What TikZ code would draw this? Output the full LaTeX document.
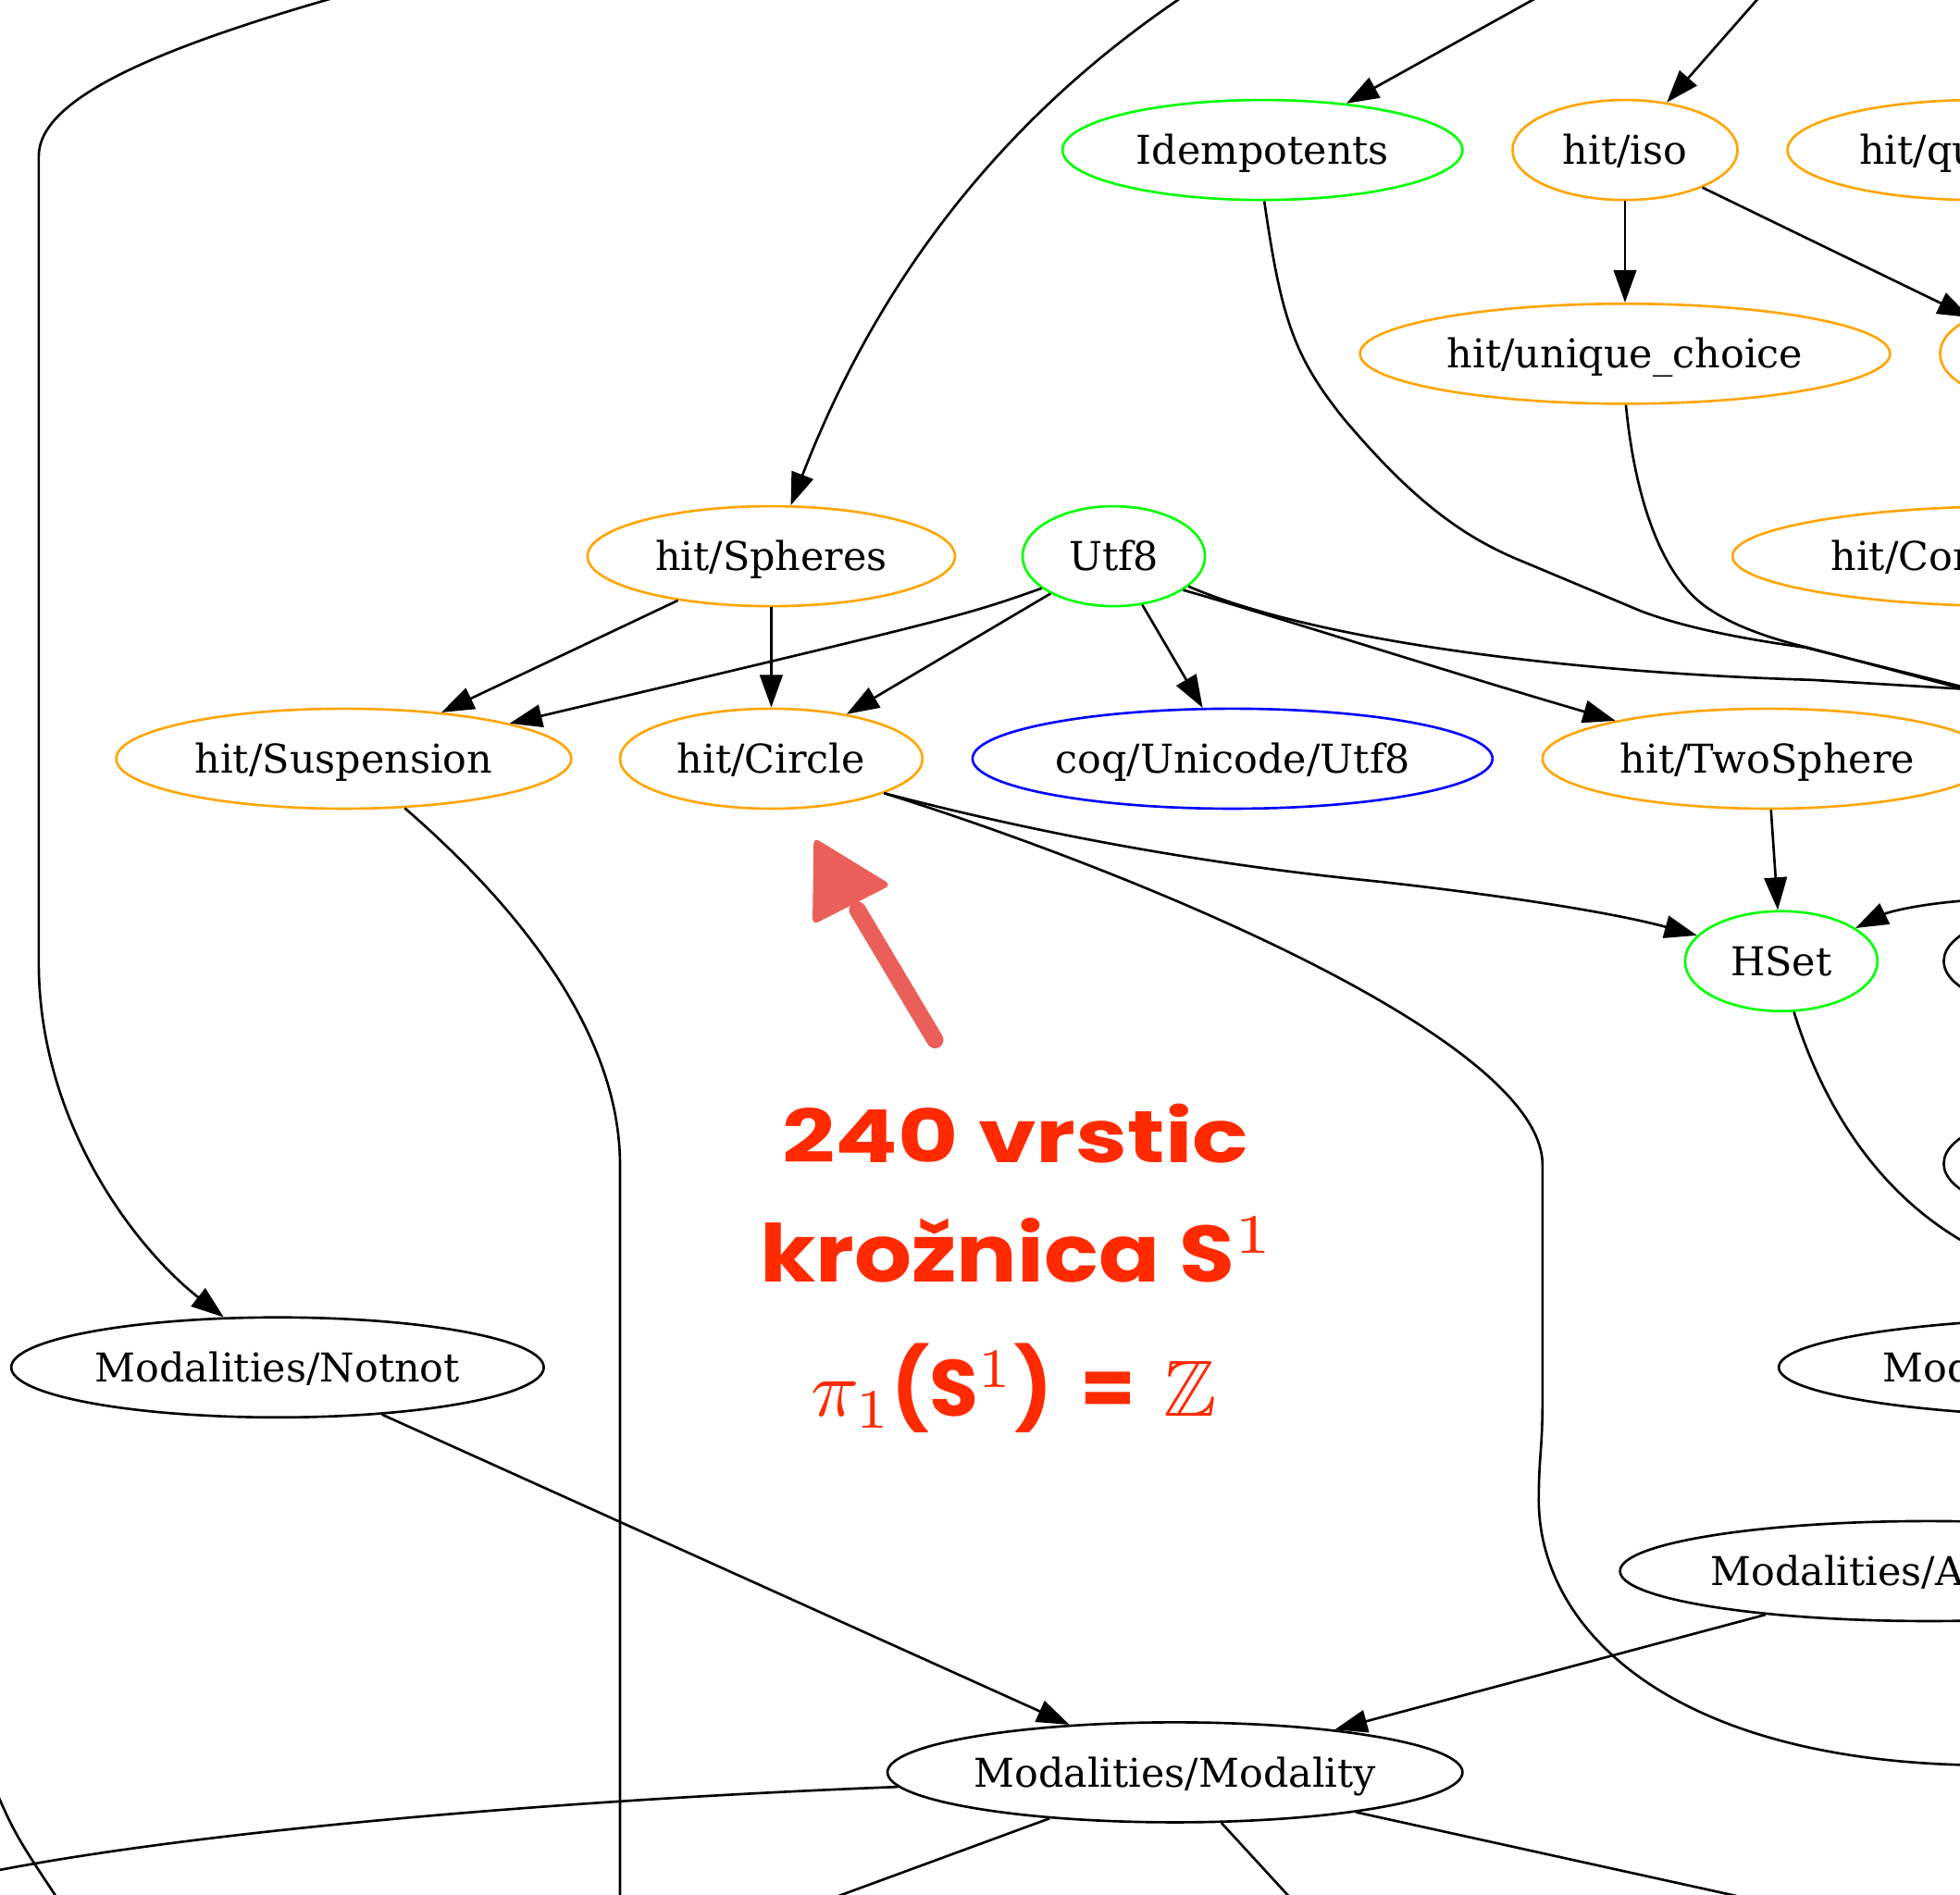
\documentclass[tikz,border=0pt]{standalone}
\usepackage{amssymb}
\usepackage{fontspec}
\setmainfont{DejaVu Serif}
\newfontfamily\hand{Poppins}
\usetikzlibrary{shapes.geometric,arrows.meta}
\definecolor{gvorange}{HTML}{FFA500}
\definecolor{gvgreen}{HTML}{00FF00}
\definecolor{gvblue}{HTML}{0000FF}
\definecolor{annot}{HTML}{EB5F5A}
\definecolor{txtred}{HTML}{FF2A00}
\tikzset{
  gn/.style={ellipse, draw, line width=0.75pt, inner sep=0pt,
    minimum height={80*0.0135cm}, text height=8.9pt, text depth=0pt,
    font=\fontsize{12.2}{15}\selectfont},
  nw/.style={minimum width={#1*0.0135cm}},
  og/.style={gn, draw=gvorange},
  gg/.style={gn, draw=gvgreen},
  bg/.style={gn, draw=gvblue},
  kg/.style={gn, draw=black},
  ed/.style={line width=0.75pt, -{Triangle[length=10pt,width=7pt]}},
  ln/.style={line width=0.75pt},
  hw/.style={inner sep=0pt, anchor=base, text=txtred}
}
\begin{document}
\begin{tikzpicture}[x=0.0135cm,y=-0.0135cm]
\useasboundingbox (0,0) rectangle (1568,1516);
\clip (0,0) rectangle (1568,1516);

% nodes
\node[gg, nw=320] (idem) at (1010,120) {Idempotents};
\node[og, nw=180] (iso) at (1300,120) {hit/iso};
\node[og, nw=304] (quot) at (1582,120) {hit/quotient};
\node[og, nw=424] (uniq) at (1300,283) {hit/unique\_choice};
\node[og, nw=168] (rnode) at (1636,283) {};
\node[og, nw=294] (spheres) at (617,445) {hit/Spheres};
\node[gg, nw=146] (utf) at (891,445) {Utf8};
\node[og, nw=456] (conn) at (1614,445) {hit/Connectedness};
\node[og, nw=364] (susp) at (275,607) {hit/Suspension};
\node[og, nw=242] (circle) at (617,607) {hit/Circle};
\node[bg, nw=416] (unicode) at (986,607) {coq/Unicode/Utf8};
\node[og, nw=360] (two) at (1414,607) {hit/TwoSphere};
\node[gg, nw=154] (hset) at (1425,769) {HSet};
\node[kg, nw=190] (r769) at (1650,769) {};
\node[kg, nw=190] (r931) at (1650,931) {};
\node[kg, nw=542] (modx) at (1694,1094) {Modalities/Localization};
\node[kg, nw=426] (notnot) at (222,1094) {Modalities/Notnot};
\node[kg, nw=494] (acc) at (1543,1257) {Modalities/Accessible};
\node[kg, nw=460] (modal) at (940,1418) {Modalities/Modality};

% free ends
\coordinate (t1) at (275,-4);
\coordinate (t2) at (965,-15);
\coordinate (t3) at (1262,-20);
\coordinate (t4) at (1423,-20);
\coordinate (r7) at (1600,557);
\coordinate (r8) at (1600,559);
\coordinate (r15) at (1600,553);
\coordinate (r17) at (1600,1413);
\coordinate (r19) at (1600,719);
\coordinate (r20) at (1600,1008);
\coordinate (b21) at (496,1540);
\coordinate (l24) at (-20,1500);
\coordinate (b25) at (608,1540);
\coordinate (b26) at (1052,1540);
\coordinate (b27) at (1494,1540);
\coordinate (l28) at (-8,1422);
\coordinate (b28) at (52,1528);

% edges
\draw[ed] (t1) .. controls (120,40) and (31,80) .. (31,125) -- (31,770)
  .. controls (31,900) and (110,1000) .. (notnot.137);
\draw[ed] (t2) .. controls (800,90) and (700,230) .. (spheres.69);
\draw[ed] (t3) -- (idem);
\draw[ed] (t4) -- (iso);
\draw[ed] (iso) -- (uniq);
\draw[ed] (iso) -- (rnode);
\draw[ln] (idem.-88) .. controls (1025,255) and (1035,285) .. (1075,335)
  .. controls (1130,400) and (1170,430) .. (1220,450) -- (1313,489)
  .. controls (1350,503) and (1400,512) .. (1444,518) -- (r7);
\draw[ln] (uniq.-89) .. controls (1308,400) and (1330,465) .. (1370,489)
  .. controls (1390,502) and (1420,512) .. (1446,518) -- (r8);
\draw[ed] (spheres) -- (susp);
\draw[ed] (spheres) -- (circle);
\draw[ed] (utf.204) .. controls (770,493) .. (susp.12);
\draw[ed] (utf) -- (circle);
\draw[ed] (utf) -- (unicode);
\draw[ed] (utf.-26) .. controls (1010,490) and (1150,535) .. (two.166);
\draw[ln] (utf.-22) .. controls (1050,512) and (1250,538) .. (1450,544) -- (r15);
\draw[ed] (circle.-17) .. controls (820,664) and (950,690) .. (1100,705)
  .. controls (1200,716) and (1290,730) .. (hset.163);
\draw[ln] (circle.-17) .. controls (900,695) and (1234,830) .. (1234,932) -- (1234,1120)
  .. controls (1234,1160) and (1231,1165) .. (1231,1200)
  .. controls (1231,1300) and (1330,1405) .. (1568,1412) -- (r17);
\draw[ed] (two) -- (hset);
\draw[ed] (r19) .. controls (1540,721) and (1510,730) .. (hset.24);
\draw[ln] (hset.-76) .. controls (1460,890) and (1510,970) .. (r20);
\draw[ln] (susp.-39) .. controls (420,730) and (496,830) .. (496,932) -- (b21);
\draw[ed] (notnot) -- (modal);
\draw[ed] (acc) -- (modal);
\draw[ln] (modal.183) .. controls (450,1440) and (150,1465) .. (l24);
\draw[ln] (modal) -- (b25);
\draw[ln] (modal) -- (b26);
\draw[ln] (modal) -- (b27);
\draw[ln] (l28) .. controls (12,1468) .. (b28);

% annotation arrow
\coordinate (aS) at (748,832);
\coordinate (aE) at (686,728);
\draw[annot, line width=5.2pt, line cap=round] (aS) -- (aE);
\fill[annot, rounded corners=2pt] (651,670) -- (713,708) -- (650,740) -- cycle;

% annotation text
\node[hw] (l1) at (812.5,930) {\resizebox{5.0355cm}{0.6345cm}{\hand\bfseries 240 vrstic}};
\node[hw] (l2) at (814,1026) {\resizebox{5.562cm}{0.702cm}{{\hand\bfseries krožnica S}$^{1}$}};
\node[hw] (l3) at (811,1133) {\resizebox{4.3875cm}{!}{$\pi_{1}${\hand\bfseries (S}$^{1}${\hand\bfseries )\hspace{0.35em}=\hspace{0.35em}}$\mathbb{Z}$}};
\end{tikzpicture}
\end{document}
